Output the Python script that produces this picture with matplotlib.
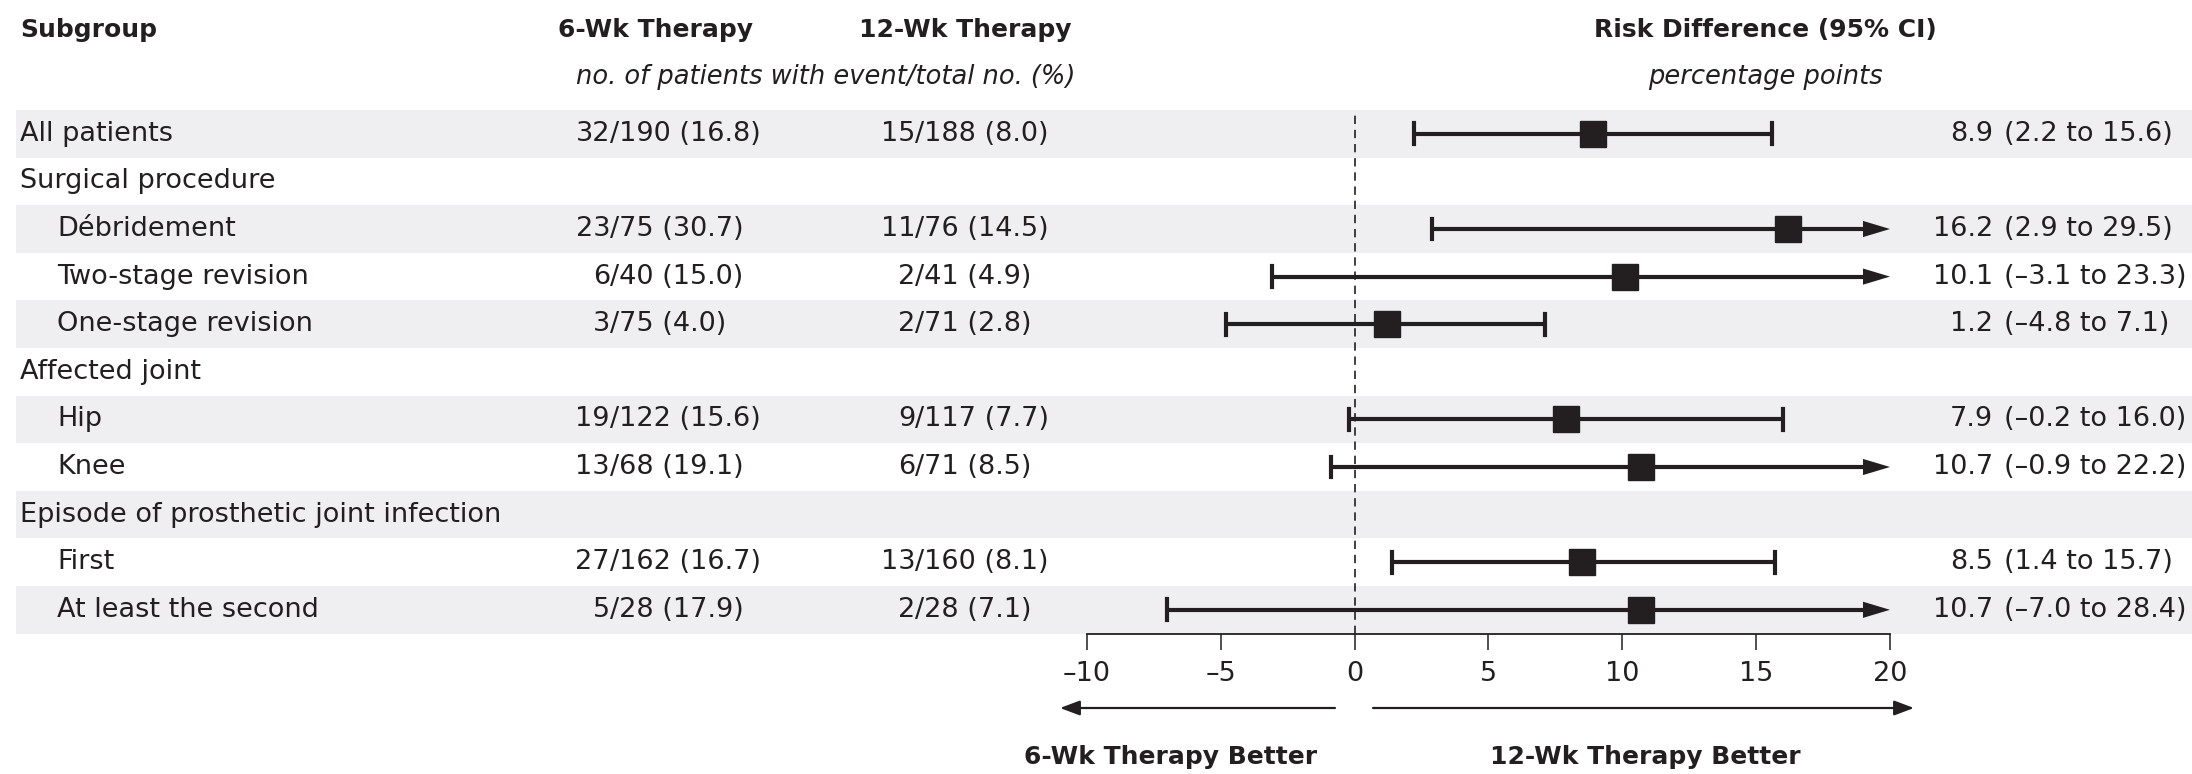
import matplotlib
matplotlib.use("Agg")
import matplotlib.pyplot as plt
from matplotlib.patches import Rectangle

plt.rcParams['font.family'] = ['DejaVu Sans']

# ---------------- data ----------------
labels = ["All patients", "Surgical procedure", "Débridement", "Two-stage revision",
          "One-stage revision", "Affected joint", "Hip", "Knee",
          "Episode of prosthetic joint infection", "First", "At least the second"]
indent = [0, 0, 1, 1, 1, 0, 1, 1, 0, 1, 1]
wk6 = ["32/190 (16.8)", "", "23/75 (30.7)", "6/40 (15.0)", "3/75 (4.0)", "",
       "19/122 (15.6)", "13/68 (19.1)", "", "27/162 (16.7)", "5/28 (17.9)"]
wk12 = ["15/188 (8.0)", "", "11/76 (14.5)", "2/41 (4.9)", "2/71 (2.8)", "",
        "9/117 (7.7)", "6/71 (8.5)", "", "13/160 (8.1)", "2/28 (7.1)"]
est = [8.9, None, 16.2, 10.1, 1.2, None, 7.9, 10.7, None, 8.5, 10.7]
lo = [2.2, None, 2.9, -3.1, -4.8, None, -0.2, -0.9, None, 1.4, -7.0]
hi = [15.6, None, 29.5, 23.3, 7.1, None, 16.0, 22.2, None, 15.7, 28.4]
xticks = [-10, -5, 0, 5, 10, 15, 20]
xtick_labels = ["\u201310", "\u20135", "0", "5", "10", "15", "20"]
xmin, xmax = -10, 20

# ---------------- layout ----------------
W, H = 2192, 774
DPI = 100
fig = plt.figure(figsize=(W / DPI, H / DPI), dpi=DPI)
fig.patch.set_facecolor("white")

TXT = "#231f20"
SHADE = "#efeff1"
FS = 19.5      # regular text
FSB = 18       # bold headers
FSI = 18.5     # italic sub-headers
row_top = 110.0
row_h = 47.6
n = len(labels)
ax_left, ax_right = 1087, 1890
bottom_px = row_top + n * row_h

bg = fig.add_axes([0, 0, 1, 1])
bg.set_xlim(0, W)
bg.set_ylim(H, 0)
bg.axis("off")

# alternating row shading
for i in range(n):
    if i % 2 == 0:
        bg.add_patch(Rectangle((16, row_top + i * row_h), W - 16, row_h,
                               facecolor=SHADE, edgecolor="none", zorder=0))

def yc(i):
    return row_top + (i + 0.5) * row_h

# headers
bg.text(20, 30, "Subgroup", fontsize=FSB, fontweight="bold", color=TXT, va="center", ha="left")
bg.text(656, 30, "6-Wk Therapy", fontsize=FSB, fontweight="bold", color=TXT, va="center", ha="center")
bg.text(965, 30, "12-Wk Therapy", fontsize=FSB, fontweight="bold", color=TXT, va="center", ha="center")
bg.text(826, 77, "no. of patients with event/total no. (%)", fontsize=FSI, style="italic",
        color=TXT, va="center", ha="center")
bg.text(1765, 30, "Risk Difference (95% CI)", fontsize=FSB, fontweight="bold", color=TXT,
        va="center", ha="center")
bg.text(1765, 77, "percentage points", fontsize=FSI, style="italic", color=TXT,
        va="center", ha="center")

slash6, slash12 = 610, 915
for i in range(n):
    y = yc(i)
    bg.text(20 + 37 * indent[i], y, labels[i], fontsize=FS, color=TXT, va="center", ha="left")
    for s, xs in ((wk6[i], slash6), (wk12[i], slash12)):
        if s:
            a, b = s.split("/", 1)
            bg.text(xs, y, a, fontsize=FS, color=TXT, va="center", ha="right")
            bg.text(xs, y, "/" + b, fontsize=FS, color=TXT, va="center", ha="left")
    if est[i] is not None:
        bg.text(1993, y, f"{est[i]:.1f}", fontsize=FS, color=TXT, va="center", ha="right")
        ci = f"({lo[i]:.1f} to {hi[i]:.1f})".replace("-", "\u2013")
        bg.text(2004, y, ci, fontsize=FS, color=TXT, va="center", ha="left")

# bottom direction arrows and labels
arr_y = 708
bg.annotate("", xy=(1060, arr_y), xytext=(1335, arr_y),
            arrowprops=dict(arrowstyle="-|>,head_length=1.2,head_width=0.45", color=TXT, lw=1.6,
                            shrinkA=0, shrinkB=0))
bg.annotate("", xy=(1914, arr_y), xytext=(1373, arr_y),
            arrowprops=dict(arrowstyle="-|>,head_length=1.2,head_width=0.45", color=TXT, lw=1.6,
                            shrinkA=0, shrinkB=0))
bg.text(1317, 757, "6-Wk Therapy Better", fontsize=FSB, fontweight="bold", color=TXT,
        va="center", ha="right")
bg.text(1490, 757, "12-Wk Therapy Better", fontsize=FSB, fontweight="bold", color=TXT,
        va="center", ha="left")

# ---------------- forest axes ----------------
ax = fig.add_axes([ax_left / W, (H - bottom_px) / H, (ax_right - ax_left) / W, (n * row_h) / H])
ax.patch.set_alpha(0)
ax.set_xlim(xmin, xmax)
ax.set_ylim(n - 0.5, -0.5)
for sp in ("top", "left", "right"):
    ax.spines[sp].set_visible(False)
ax.spines["bottom"].set_linewidth(1.3)
ax.spines["bottom"].set_color(TXT)
ax.set_yticks([])
ax.set_xticks(xticks)
ax.set_xticklabels(xtick_labels)
ax.tick_params(axis="x", direction="out", length=11.5, width=1.1, colors=TXT,
               labelsize=FS, pad=8)

ax.axvline(0, color=TXT, lw=1.2, ls=(0, (5, 3.5)), zorder=1)

LW = 3.0
unit_px = (ax_right - ax_left) / (xmax - xmin)
for i in range(n):
    if est[i] is None:
        continue
    if hi[i] > xmax:
        head_len = 27 / unit_px
        ax.plot([lo[i], xmax - head_len * 0.9], [i, i], color=TXT, lw=LW,
                solid_capstyle="butt", zorder=3)
        ax.fill([xmax - head_len, xmax, xmax - head_len], [i - 0.17, i, i + 0.17],
                color=TXT, zorder=3, lw=0)
    else:
        ax.plot([lo[i], hi[i]], [i, i], color=TXT, lw=LW, solid_capstyle="butt", zorder=3)
        ax.plot([hi[i], hi[i]], [i - 0.22, i + 0.22], color=TXT, lw=LW, zorder=3)
    ax.plot([lo[i], lo[i]], [i - 0.22, i + 0.22], color=TXT, lw=LW, zorder=3)
    ax.plot(est[i], i, marker="s", markersize=19, color=TXT, zorder=4, lw=0)

fig.savefig("out.png", dpi=DPI, facecolor="white")
